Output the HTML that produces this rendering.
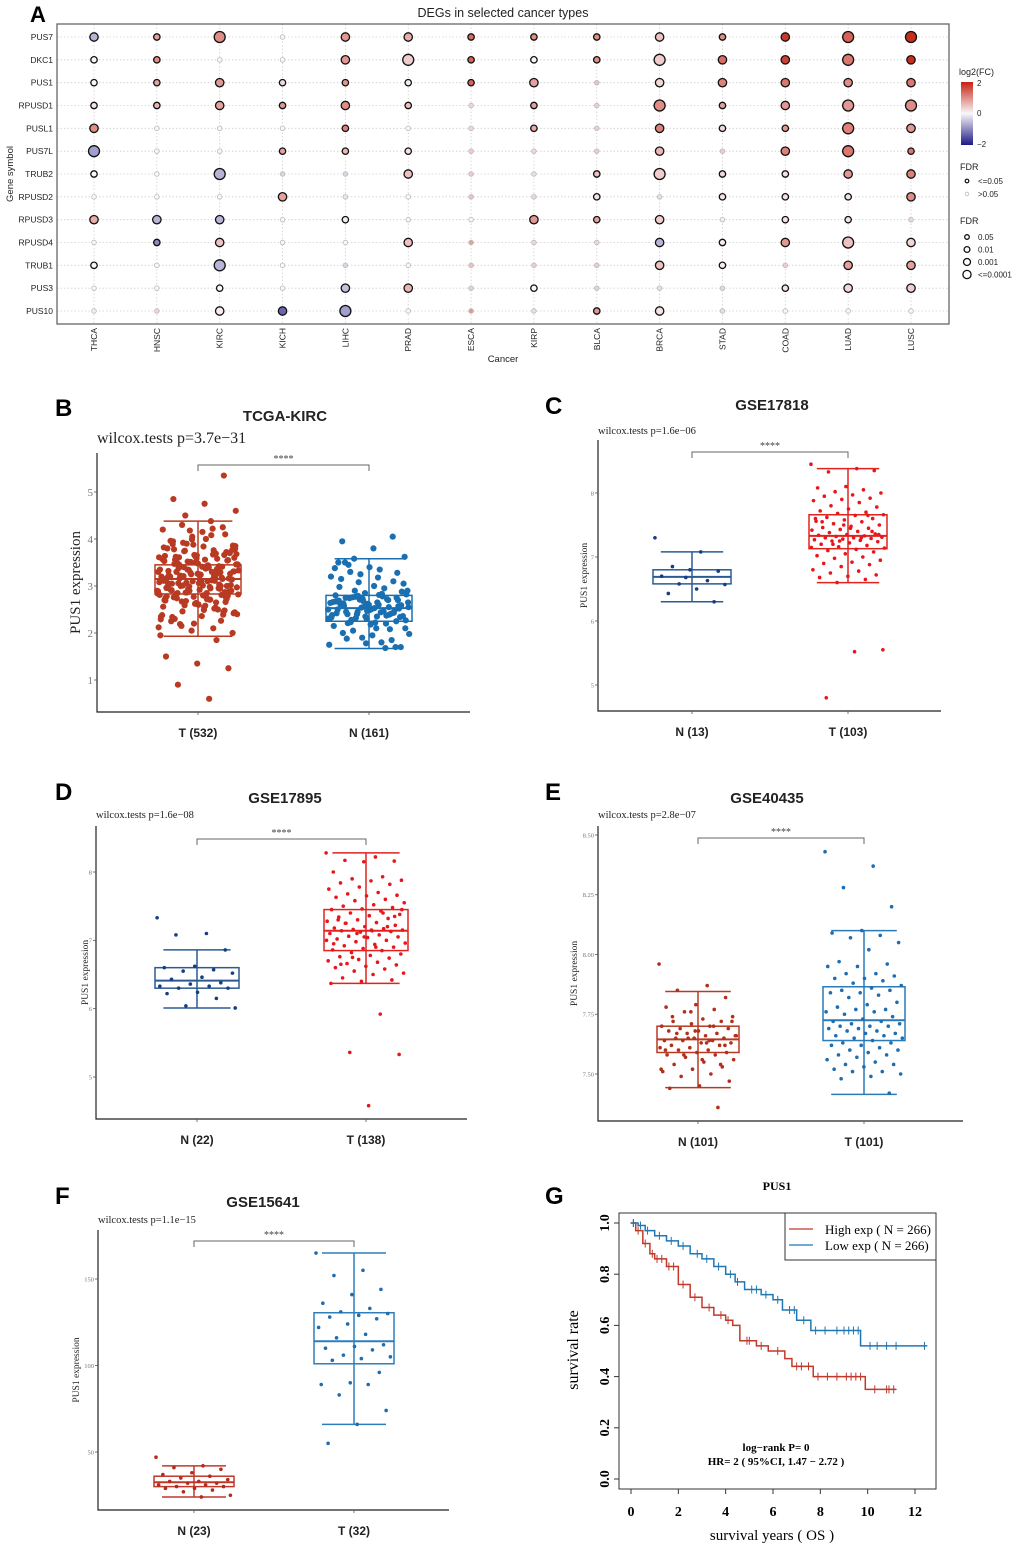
<!DOCTYPE html>
<html><head><meta charset="utf-8">
<style>
html,body{margin:0;padding:0;background:#fff;}
svg{display:block;}
.sans{font-family:"Liberation Sans",Arial,sans-serif;}
.serif{font-family:"Liberation Serif","Times New Roman",serif;}
</style></head>
<body>
<svg id="fig" width="1020" height="1551" viewBox="0 0 1020 1551" xmlns="http://www.w3.org/2000/svg">
<g id="gA"></g>
<g id="gB"></g>
<g id="gC"></g>
<g id="gD"></g>
<g id="gE"></g>
<g id="gF"></g>
<g id="gG"></g>
</svg>
<script>
// ---------- Panel A data ----------
const genes = ["PUS7","DKC1","PUS1","RPUSD1","PUSL1","PUS7L","TRUB2","RPUSD2","RPUSD3","RPUSD4","TRUB1","PUS3","PUS10"];
const cancers = ["THCA","HNSC","KIRC","KICH","LIHC","PRAD","ESCA","KIRP","BLCA","BRCA","STAD","COAD","LUAD","LUSC"];
const fcVals = [
 [-0.6,0.8,1.0,0,0.9,0.7,1.3,1.0,1.0,0.5,1.0,1.8,1.4,1.9],
 [0,1.0,0,0,0.9,0.4,1.4,0,1.0,0.4,1.3,1.7,1.2,1.9],
 [0,0.8,0.9,0.3,0.9,0.1,1.4,0.8,0.5,0.3,1.1,1.2,1.0,1.2],
 [0.2,0.6,0.8,0.9,1.0,0.5,0.3,0.8,0.4,1.0,0.8,0.9,0.9,1.0],
 [1.0,0,0,0,1.1,0,0.3,0.7,0.4,1.1,0.3,0.9,1.1,0.9],
 [-0.8,0,0,0.8,0.6,0.2,0.4,0.3,0.4,0.6,0.4,1.1,1.2,1.2],
 [0,0,-0.6,-0.3,-0.3,0.5,0.4,-0.2,0.5,0.4,0.3,0.2,0.9,1.1],
 [0,0,0,0.8,0.2,0,0.5,0.3,0.2,-0.2,0.2,0.2,0.2,1.0],
 [0.7,-0.6,-0.6,0,0.1,0,0,0.9,0.8,0.4,0.1,0.2,0.2,0.3],
 [0,-1.0,0.5,0,0,0.5,0.8,0.3,0.3,-0.6,0.1,0.9,0.5,0.3],
 [0,0,-0.6,0,-0.3,0,0.5,0.4,0.4,0.5,0.1,0.4,0.8,0.8],
 [0,0,0,0,-0.5,0.6,-0.3,0,-0.3,-0.2,0.3,0.2,0.3,0.4],
 [0.1,0.3,0.1,-1.3,-0.8,0,0.9,-0.2,0.9,0.2,-0.2,0,0,0]
];
const fdrLevels = [
 [2,1,3,0,2,2,1,1,1,2,1,2,3,3],
 [1,1,0,0,2,3,1,1,1,3,2,2,3,2],
 [1,1,2,1,1,1,1,2,0,2,2,2,2,2],
 [1,1,2,1,2,1,0,1,0,3,1,2,3,3],
 [2,0,0,0,1,0,0,1,0,2,1,1,3,2],
 [3,0,0,1,1,1,0,0,0,2,0,2,3,1],
 [1,0,3,0,0,2,0,0,1,3,1,1,2,2],
 [0,0,0,2,0,0,0,0,1,0,1,1,1,2],
 [2,2,2,0,1,0,0,2,1,2,0,1,1,0],
 [0,1,2,0,0,2,0,0,0,2,1,2,3,2],
 [1,0,3,0,0,0,0,0,0,2,1,0,2,2],
 [0,0,1,0,2,2,0,1,0,0,0,1,2,2],
 [0,0,2,2,3,0,0,0,1,2,0,0,0,0]
];
const fdrLegendLabels = ["0.05","0.01","0.001","<=0.0001"];

// ---------- Box panels data ----------
const bCats = ["T (532)","N (161)"];
const bStats = [[1.93,2.83,3.15,3.45,4.38],[1.67,2.25,2.53,2.80,3.58]];
const bTicks = [1,2,3,4,5];
const bPts0 = [2.9,3.1,3.3,3.0,3.5,2.7,3.2,3.4,3.6,2.8,3.05,3.15,3.25,3.35,2.95,3.45,3.7,2.6,3.8,2.5,3.9,2.4,4.0,2.3,4.1,2.2,4.2,2.1,4.3,2.0,3.1,3.2,3.0,2.9,3.3,3.4,2.85,3.55,3.65,2.75,2.65,3.75,3.85,2.55,3.95,2.45,4.05,2.35,3.12,3.22,3.02,2.92,3.32,3.42,3.52,2.82,2.72,3.62,3.72,2.62,3.82,2.52,3.92,2.42,4.15,2.25,3.18,3.28,3.08,2.98,3.38,2.88,3.48,2.78,3.58,2.68,3.68,2.58,3.78,2.48,3.88,2.38,4.22,2.15,3.14,3.24,3.04,2.94,3.34,2.84,3.44,2.74,3.54,2.64,3.64,2.54,3.74,2.44,3.84,2.34,4.25,2.05,1.95,4.38,3.16,3.26,3.06,2.96,3.36,2.86,3.46,2.76,3.56,2.66,3.66,2.56,3.76,2.46,3.86,2.36,3.96,2.26,4.18,2.12,0.6,0.9,1.25,1.35,1.5,1.85,4.5,4.6,4.75,4.85,5.35,3.1,3.2,3.3,3.0,2.9,3.13,3.23,3.03,2.93,3.33,3.43,2.83,2.73,3.63,3.53,
 3.11,3.21,3.31,3.01,2.91,3.41,3.51,2.81,2.71,3.61,3.71,2.61,3.17,3.27,3.07,2.97,3.37,3.47,2.87,2.77,3.57,3.67,2.67,3.77,3.09,3.19,3.29,2.99,2.89,3.39,3.49,2.79,3.59,2.69,3.69,2.59,3.79,2.49,3.89,2.39,3.99,2.29,4.08,2.19,3.15,3.25,3.05,2.95,3.35,3.45,2.85,3.55,2.75,3.65,3.11,3.21,3.01,3.31,3.41,2.91,2.81,3.51,3.61,2.71,3.06,3.16,3.26,2.96,3.36,2.86,3.46,3.56,2.76,3.66];
const bPts1 = [2.5,2.6,2.4,2.7,2.3,2.8,2.2,2.9,2.1,3.0,2.0,3.1,1.9,3.2,1.8,3.3,1.7,3.4,3.5,2.55,2.45,2.65,2.35,2.75,2.25,2.85,2.15,2.95,2.05,3.05,1.95,3.15,1.85,3.25,1.75,3.35,3.45,2.52,2.62,2.42,2.72,2.32,2.82,2.22,2.58,2.48,2.68,2.38,2.78,2.28,2.88,2.18,2.98,2.08,3.08,1.98,3.18,1.88,3.28,1.78,3.38,1.68,3.58,3.62,3.8,3.95,4.05,2.54,2.64,2.44,2.74,2.34,2.6,2.5,2.7,2.4,2.9,2.1,3.5,1.7,2.56,2.66,2.46,2.76,2.36,
 2.51,2.61,2.41,2.71,2.31,2.81,2.21,2.57,2.47,2.67,2.37,2.77,2.27,2.53,2.63,2.43,2.73,2.33,2.83,2.23,2.59,2.49,2.69,2.39,2.79,2.55,2.65,2.45,2.75,2.35];

const cCats = ["N  (13)","T  (103)"];
const cStats = [[6.30,6.58,6.69,6.80,7.08],[6.60,7.13,7.33,7.66,8.38]];
const cTicks = [5,6,7,8];
const cPts0 = [7.3,7.08,6.85,6.78,6.8,6.7,6.63,6.58,6.57,6.5,6.43,6.3,6.68];
const cPts1 = [8.45,8.38,8.33,8.35,8.1,8.08,8.05,8.02,8.0,7.97,7.95,7.92,7.9,7.88,7.85,7.8,7.78,7.75,7.72,7.7,7.68,7.66,7.65,7.62,7.6,7.58,7.56,7.55,7.52,7.5,7.48,7.46,7.45,7.43,7.42,7.4,7.38,7.36,7.35,7.34,7.33,7.32,7.31,7.3,7.3,7.29,7.28,7.27,7.26,7.25,7.24,7.22,7.2,7.18,7.16,7.14,7.12,7.1,7.08,7.05,7.02,7.0,6.98,6.95,6.92,6.9,6.88,6.85,6.8,6.78,6.75,6.72,6.7,6.68,6.65,6.6,5.55,5.52,4.8,7.4,7.5,7.6,7.3,7.2,7.35,7.45,7.55,7.65,7.25,7.15];

const dCats = ["N  (22)","T  (138)"];
const dStats = [[6.01,6.30,6.41,6.60,6.86],[6.37,6.85,7.14,7.45,8.28]];
const dTicks = [5,6,7,8];
const dPts0 = [7.33,7.1,7.08,6.86,6.62,6.6,6.57,6.55,6.52,6.46,6.43,6.38,6.36,6.33,6.33,6.3,6.3,6.24,6.22,6.15,6.04,6.01];
const dPts1 = [8.28,8.22,8.17,8.16,8.15,8.0,7.93,7.9,7.88,7.87,7.84,7.82,7.78,7.75,7.7,7.68,7.66,7.65,7.63,7.6,7.58,7.55,7.52,7.5,7.48,7.46,7.45,7.43,7.4,7.38,7.36,7.34,7.32,7.3,7.28,7.26,7.25,7.22,7.2,7.18,7.17,7.16,7.15,7.14,7.14,7.13,7.12,7.1,7.08,7.06,7.05,7.04,7.02,7.0,6.98,6.96,6.94,6.92,6.9,6.88,6.86,6.85,6.82,6.8,6.78,6.76,6.74,6.72,6.7,6.68,6.66,6.64,6.62,6.6,6.58,6.55,6.52,6.5,6.45,6.42,6.4,6.37,5.92,5.36,5.33,4.58,7.3,7.2,7.1,7.0,6.9,7.25,7.35,7.05,6.95,7.4,6.75,7.45,7.15,6.65];

const eCats = ["N  (101)","T (101)"];
const eStats = [[7.443,7.59,7.645,7.70,7.845],[7.415,7.64,7.725,7.865,8.10]];
const eTicks = [7.5,7.75,8.0,8.25,8.5];
const eTickLabels = ["7.50","7.75","8.00","8.25","8.50"];
const ePts0 = [7.96,7.87,7.85,7.82,7.79,7.78,7.77,7.76,7.74,7.73,7.72,7.72,7.71,7.7,7.7,7.69,7.69,7.68,7.68,7.67,7.67,7.66,7.66,7.65,7.65,7.65,7.64,7.64,7.64,7.63,7.63,7.62,7.62,7.61,7.61,7.6,7.6,7.59,7.59,7.58,7.58,7.57,7.56,7.55,7.54,7.53,7.52,7.51,7.5,7.49,7.47,7.45,7.44,7.36,7.65,7.66,7.63,7.67,7.62,7.68,7.6,7.7,7.58,7.72,7.56,7.74,7.54,7.76,7.52,7.64];
const ePts1 = [8.43,8.37,8.28,8.2,8.1,8.09,8.08,8.07,8.05,8.02,7.97,7.96,7.95,7.95,7.92,7.92,7.91,7.9,7.9,7.89,7.88,7.87,7.86,7.85,7.85,7.84,7.84,7.83,7.82,7.8,7.79,7.78,7.77,7.77,7.76,7.76,7.75,7.74,7.73,7.72,7.72,7.71,7.71,7.7,7.7,7.7,7.69,7.69,7.68,7.68,7.67,7.67,7.66,7.66,7.65,7.65,7.64,7.63,7.63,7.62,7.62,7.61,7.6,7.6,7.59,7.58,7.58,7.57,7.56,7.55,7.54,7.54,7.53,7.52,7.51,7.51,7.5,7.49,7.48,7.42];

const fCats = ["N  (23)","T  (32)"];
const fStats = [[24,30,32.5,36,42],[66,101,114,130.5,165]];
const fTicks = [50,100,150];
const fPts0 = [47,42,41,40,38,37,36,35,34,33,33,32,32,31,31,30,30,29,29,28,27,25,24];
const fPts1 = [165,155,152,144,141,136,133,131,130,129,128,127,124,122,118,116,112,111,110,109,106,105,104,103,96,90,89,89,83,74,66,55];

// ---------- Panel G data ----------
const kmHighT = [0,0.2,0.5,0.8,1.0,1.5,2.0,2.5,3.0,3.5,4.0,4.3,4.6,5.3,5.8,6.5,6.8,7.7,9.9,11.2];
const kmHighS = [1,0.97,0.92,0.88,0.86,0.83,0.76,0.71,0.67,0.64,0.62,0.60,0.54,0.52,0.50,0.47,0.44,0.40,0.35,0.35];
const kmLowT = [0,0.3,0.6,1.0,1.5,2.0,2.5,3.0,3.5,4.0,4.4,4.8,5.5,6.0,6.4,7.0,7.6,9.7,12.5];
const kmLowS = [1,0.99,0.97,0.95,0.93,0.91,0.88,0.86,0.83,0.80,0.77,0.74,0.72,0.70,0.66,0.62,0.58,0.52,0.52];
const kmHighCens = [0.1,0.3,0.6,0.9,1.1,1.3,1.6,1.8,2.2,2.7,3.3,3.8,4.1,4.9,5.0,5.5,6.2,7.0,7.2,7.5,7.9,8.3,8.7,9.1,9.3,9.5,9.7,10.3,10.8,10.9,11.1];
const kmLowCens = [0.1,0.4,0.7,1.2,1.7,2.2,2.8,3.2,3.7,4.2,4.5,5.1,5.3,5.7,6.2,6.7,6.9,7.3,7.8,8.2,8.7,9.0,9.2,9.4,9.6,10.1,10.4,10.8,11.2,12.4];
const kmXTicks = [0,2,4,6,8,10,12];
const kmYTicks = [0,0.2,0.4,0.6,0.8,1.0];
const kmLegend = ["High exp ( N = 266)","Low exp ( N = 266)"];

const NS = "http://www.w3.org/2000/svg";
function mk(parent, tag, attrs, text){
  const e = document.createElementNS(NS, tag);
  for (const k in attrs) e.setAttribute(k, attrs[k]);
  if (text !== undefined) e.textContent = text;
  parent.appendChild(e);
  return e;
}

// ---------- Panel A ----------
(function(){
  const g = document.getElementById('gA');
  const L=57,R=949,T=24,B=324;
  const x0=94, dx=(911-94)/(cancers.length-1);
  const y0=37, dy=(311-37)/(genes.length-1);
  const xA = i => x0 + i*dx;
  const yA = j => y0 + j*dy;
  function col(v){
    const t = Math.min(1, Math.abs(v)/2);
    const w=[250,247,250];
    const c = v>=0 ? [198,34,18] : [28,26,132];
    return 'rgb('+w.map((a,k)=>Math.round(a+(c[k]-a)*t)).join(',')+')';
  }
  let t = mk(g,'text',{x:'30',y:'22','font-size':'22','font-weight':'bold',class:'sans'},'A');
   
  t = mk(g,'text',{x:'503',y:'17','font-size':'12.5','text-anchor':'middle',class:'sans',fill:'#222'},'DEGs in selected cancer types');
   
  genes.forEach((gn,j)=>{
    const l = mk(g,'line',{x1:L,x2:R,y1:yA(j),y2:yA(j),stroke:'#cfcfcf','stroke-width':'0.8','stroke-dasharray':'1.5,2'});
     
    const lb = mk(g,'text',{x:L-4,y:yA(j)+3,'font-size':'8.5','text-anchor':'end',class:'sans',fill:'#222'},gn);
     
  });
  cancers.forEach((c,i)=>{
    const l = mk(g,'line',{x1:xA(i),x2:xA(i),y1:T,y2:B,stroke:'#cfcfcf','stroke-width':'0.8','stroke-dasharray':'1.5,2'});
     
    const lb = mk(g,'text',{x:0,y:0,'font-size':'8.5','text-anchor':'end',class:'sans',fill:'#222',transform:'translate('+(xA(i)+3)+','+(B+4)+') rotate(-90)'},c);
     
  });
  const frame = mk(g,'rect',{x:L,y:T,width:R-L,height:B-T,fill:'none',stroke:'#666','stroke-width':'1.3'});
   
  const radii=[2.3,3.2,4.2,5.5];
  genes.forEach((gn,j)=>{
    cancers.forEach((c,i)=>{
      const lv = fdrLevels[j][i], v = fcVals[j][i];
      const sig = lv>0;
      const ci = mk(g,'circle',{cx:xA(i),cy:yA(j),r:radii[lv],fill:col(v),stroke:sig?'#111':'#b8b8b8','stroke-width':sig?'1.3':'0.8'});
      
      
    });
  });
  t = mk(g,'text',{x:'503',y:'362','font-size':'9.5','text-anchor':'middle',class:'sans',fill:'#222'},'Cancer');
   
  t = mk(g,'text',{x:0,y:0,'font-size':'9.5','text-anchor':'middle',class:'sans',fill:'#222',transform:'translate(13,174) rotate(-90)'},'Gene symbol');
   
  const defs = mk(document.getElementById('fig'),'defs',{});
  const lg = mk(defs,'linearGradient',{id:'fcgrad',x1:'0',y1:'0',x2:'0',y2:'1'});
  mk(lg,'stop',{offset:'0',"stop-color":col(2)});
  mk(lg,'stop',{offset:'0.5',"stop-color":col(0)});
  mk(lg,'stop',{offset:'1',"stop-color":col(-2)});
  t = mk(g,'text',{x:'959',y:'75','font-size':'9',class:'sans',fill:'#222'},'log2(FC)');
   
  const cb = mk(g,'rect',{x:'961',y:'82',width:'12',height:'63',fill:'url(#fcgrad)'});
   
  [['2',86],['0',116],['−2',147]].forEach(a=>{
    const tt = mk(g,'text',{x:'977',y:a[1],'font-size':'8',class:'sans',fill:'#222'},a[0]);
     
  });
  t = mk(g,'text',{x:'960',y:'170','font-size':'9',class:'sans',fill:'#222'},'FDR');
   
  [['<=0.05',181,'#111',1.2],['>0.05',194,'#bbb',0.8]].forEach(a=>{
    const c = mk(g,'circle',{cx:'967',cy:a[1],r:'1.8',fill:'none',stroke:a[2],'stroke-width':a[3]});
     
    const tt = mk(g,'text',{x:'978',y:a[1]+3,'font-size':'8',class:'sans',fill:'#222'},a[0]);
     
  });
  t = mk(g,'text',{x:'960',y:'224','font-size':'9',class:'sans',fill:'#222'},'FDR');
   
  fdrLegendLabels.forEach((lab,k)=>{
    const yy = 237+k*12.5;
    const c = mk(g,'circle',{cx:'967',cy:yy,r:2.3+k*0.6,fill:'none',stroke:'#111','stroke-width':'1.3'});
     
    const tt = mk(g,'text',{x:'978',y:yy+3,'font-size':'8',class:'sans',fill:'#222'},lab);
     
  });
})();

// ---------- box panel ----------
function boxPanel(gid, cfg, cats, stats, ticks, tickLabels, pts){
  const g = document.getElementById(gid);
  const yS = v => cfg.yPix1 + (v - cfg.v1)*(cfg.yPix2-cfg.yPix1)/(cfg.v2-cfg.v1);
  let t = mk(g,'text',{x:cfg.lx,y:cfg.ly,'font-size':'24','font-weight':'bold',class:'sans'},cfg.letter);
   
  t = mk(g,'text',{x:cfg.tx,y:cfg.ty,'font-size':'15','font-weight':'bold','text-anchor':'middle',class:'sans',fill:'#222'},cfg.title);
   
  t = mk(g,'text',{x:cfg.wx,y:cfg.wy,'font-size':cfg.wfs,class:'serif',fill:'#222'},cfg.wtext);
   
  const ax = mk(g,'path',{d:'M'+cfg.L+','+cfg.T+' V'+cfg.B+' H'+cfg.R,fill:'none',stroke:'#222','stroke-width':'1.2'});
   
  ticks.forEach((v,k)=>{
    const y = yS(v);
    const tk = mk(g,'line',{x1:cfg.L-3,x2:cfg.L,y1:y,y2:y,stroke:'#555','stroke-width':'0.8'});
     
    const tl = mk(g,'text',{x:cfg.L-4,y:y+cfg.tfs*0.35,'font-size':cfg.tfs,'text-anchor':'end',class:'serif',fill:'#777'},tickLabels?tickLabels[k]:String(v));
     
  });
  t = mk(g,'text',{x:0,y:0,'font-size':cfg.yfs,'text-anchor':'middle',class:'serif',fill:'#222',transform:'translate('+cfg.yx+','+((cfg.T+cfg.B)/2)+') rotate(-90)'},'PUS1 expression');
   
  cats.forEach((c,i)=>{
    const x = cfg.xs[i], s = stats[i], col = cfg.cols[i], hw = cfg.hw;
    const tk = mk(g,'line',{x1:x,x2:x,y1:cfg.B,y2:cfg.B+3,stroke:'#555','stroke-width':'0.8'});
     
    const xl = mk(g,'text',{x:x,y:cfg.B+25,'font-size':'12','font-weight':'bold','text-anchor':'middle',class:'sans',fill:'#222'},c);
     
    const bx = mk(g,'g',{});
     
    mk(bx,'line',{x1:x,x2:x,y1:yS(s[0]),y2:yS(s[4]),stroke:col,'stroke-width':'1.5'});
    mk(bx,'line',{x1:x-hw*0.8,x2:x+hw*0.8,y1:yS(s[0]),y2:yS(s[0]),stroke:col,'stroke-width':'1.5'});
    mk(bx,'line',{x1:x-hw*0.8,x2:x+hw*0.8,y1:yS(s[4]),y2:yS(s[4]),stroke:col,'stroke-width':'1.5'});
    mk(bx,'rect',{x:x-hw,y:yS(s[3]),width:2*hw,height:yS(s[1])-yS(s[3]),fill:'none',stroke:col,'stroke-width':'1.5'});
    mk(bx,'line',{x1:x-hw,x2:x+hw,y1:yS(s[2]),y2:yS(s[2]),stroke:col,'stroke-width':'2'});
    const pg = mk(g,'g',{fill:cfg.pcols[i]});
     
    pts[i].forEach((v,k)=>{
      const jit = (((k*0.6180339)%1)-0.5)*2*hw*0.95;
      const p = mk(pg,'circle',{cx:x+jit,cy:yS(v),r:cfg.pr});
       
    });
  });
  const br = mk(g,'path',{d:'M'+cfg.xs[0]+','+(cfg.by+6)+' V'+cfg.by+' H'+cfg.xs[1]+' V'+(cfg.by+6),fill:'none',stroke:'#666','stroke-width':'1'});
   
  t = mk(g,'text',{x:(cfg.xs[0]+cfg.xs[1])/2,y:cfg.by-3,'font-size':'10','text-anchor':'middle',class:'serif',fill:'#444'},'****');
   
}

boxPanel('gB',{letter:'B',lx:55,ly:416,title:'TCGA-KIRC',tx:285,ty:421,wx:97,wy:443,wfs:16,wtext:'wilcox.tests p=3.7e−31',
  L:97,R:470,T:453,B:712,v1:1,yPix1:680,v2:5,yPix2:492,tfs:11,yfs:15,yx:80,xs:[198,369],hw:43,
  cols:['#b83a22','#1a6fb0'],pcols:['#b83a22','#1a6fb0'],pr:3.1,by:465},bCats,bStats,bTicks,null,[bPts0,bPts1]);
boxPanel('gC',{letter:'C',lx:545,ly:414,title:'GSE17818',tx:772,ty:410,wx:598,wy:434,wfs:10.5,wtext:'wilcox.tests p=1.6e−06',
  L:598,R:941,T:440,B:711,v1:5,yPix1:685,v2:8,yPix2:493,tfs:6.5,yfs:9.5,yx:587,xs:[692,848],hw:39,
  cols:['#2b5b93','#e0231f'],pcols:['#163e82','#e8161c'],pr:1.8,by:452},cCats,cStats,cTicks,null,[cPts0,cPts1]);
boxPanel('gD',{letter:'D',lx:55,ly:800,title:'GSE17895',tx:285,ty:803,wx:96,wy:818,wfs:10.5,wtext:'wilcox.tests p=1.6e−08',
  L:96,R:467,T:826,B:1119,v1:5,yPix1:1077,v2:8,yPix2:872,tfs:6.5,yfs:9.5,yx:88,xs:[197,366],hw:42,
  cols:['#2b5b93','#e0231f'],pcols:['#163e82','#e8161c'],pr:1.8,by:839},dCats,dStats,dTicks,null,[dPts0,dPts1]);
boxPanel('gE',{letter:'E',lx:545,ly:800,title:'GSE40435',tx:767,ty:803,wx:598,wy:818,wfs:10.5,wtext:'wilcox.tests p=2.8e−07',
  L:598,R:963,T:826,B:1121,v1:7.5,yPix1:1074,v2:8.5,yPix2:835,tfs:6.5,yfs:9.5,yx:577,xs:[698,864],hw:41,
  cols:['#b83a22','#2a7ab8'],pcols:['#b0301c','#1f6db0'],pr:1.8,by:838},eCats,eStats,eTicks,eTickLabels,[ePts0,ePts1]);
boxPanel('gF',{letter:'F',lx:55,ly:1204,title:'GSE15641',tx:263,ty:1207,wx:98,wy:1223,wfs:10.5,wtext:'wilcox.tests p=1.1e−15',
  L:98,R:449,T:1230,B:1510,v1:50,yPix1:1452,v2:150,yPix2:1279,tfs:6.5,yfs:9.5,yx:79,xs:[194,354],hw:40,
  cols:['#c0392b','#2e7ebc'],pcols:['#b52a1a','#1f6db0'],pr:1.8,by:1241},fCats,fStats,fTicks,null,[fPts0,fPts1]);

// ---------- Panel G ----------
(function(){
  const g = document.getElementById('gG');
  const L=619,R=936,T=1213,B=1489;
  const xS = v => 631 + v*(915-631)/12;
  const yS = v => 1479 - v*(1479-1223);
  let t = mk(g,'text',{x:'545',y:'1204','font-size':'24','font-weight':'bold',class:'sans'},'G');
   
  t = mk(g,'text',{x:'777',y:'1190','font-size':'12','font-weight':'bold','text-anchor':'middle',class:'serif'},'PUS1');
   
  const fr = mk(g,'rect',{x:L,y:T,width:R-L,height:B-T,fill:'none',stroke:'#333','stroke-width':'1'});
   
  kmXTicks.forEach(v=>{
    const l = mk(g,'line',{x1:xS(v),x2:xS(v),y1:B,y2:B+5,stroke:'#333'});
     
    const tl = mk(g,'text',{x:xS(v),y:1516,'font-size':'14','font-weight':'bold','text-anchor':'middle',class:'serif'},String(v));
     
  });
  kmYTicks.forEach(v=>{
    const l = mk(g,'line',{x1:L-5,x2:L,y1:yS(v),y2:yS(v),stroke:'#333'});
     
    const tl = mk(g,'text',{x:0,y:0,'font-size':'14','font-weight':'bold','text-anchor':'middle',class:'serif',transform:'translate('+(L-10)+','+yS(v)+') rotate(-90)'},v.toFixed(1));
     
  });
  t = mk(g,'text',{x:0,y:0,'font-size':'16','text-anchor':'middle',class:'serif',transform:'translate(578,1350) rotate(-90)'},'survival rate');
   
  t = mk(g,'text',{x:'772',y:'1540','font-size':'15','text-anchor':'middle',class:'serif'},'survival years ( OS   )');
   
  function stepPath(ts, ss){
    let d = 'M'+xS(ts[0])+','+yS(ss[0]);
    for (let k=1;k<ts.length;k++){ d += ' H'+xS(ts[k])+' V'+yS(ss[k]); }
    return d;
  }
  function survAt(ts, ss, x){ let s=ss[0]; for(let k=0;k<ts.length;k++){ if(ts[k]<=x) s=ss[k]; } return s; }
  const series = [[kmHighT,kmHighS,kmHighCens,'#c0392b','km-curve-high'],[kmLowT,kmLowS,kmLowCens,'#1f78b4','km-curve-low']];
  series.forEach(sr=>{
    const p = mk(g,'path',{d:stepPath(sr[0],sr[1]),fill:'none',stroke:sr[3],'stroke-width':'1.5'});
     
    sr[2].forEach(c=>{
      const x=xS(c), y=yS(survAt(sr[0],sr[1],c));
      const m = mk(g,'path',{d:'M'+(x-3)+','+y+' H'+(x+3)+' M'+x+','+(y-4)+' V'+(y+4),stroke:sr[3],'stroke-width':'1'});
       
    });
  });
  const lb = mk(g,'rect',{x:'785',y:T,width:R-785,height:'47',fill:'#fff',stroke:'#333','stroke-width':'1'});
   
  kmLegend.forEach((lab,k)=>{
    const y = 1229+k*16;
    const l = mk(g,'line',{x1:'789',x2:'813',y1:y,y2:y,stroke:series[k][3],'stroke-width':'1.2'});
     
    const tt = mk(g,'text',{x:'825',y:y+5,'font-size':'13',class:'serif'},lab);
     
  });
  t = mk(g,'text',{x:'776',y:'1451','font-size':'11','font-weight':'bold','text-anchor':'middle',class:'serif'},'log−rank P= 0');
   
  t = mk(g,'text',{x:'776',y:'1465','font-size':'11','font-weight':'bold','text-anchor':'middle',class:'serif'},'HR= 2 ( 95%CI, 1.47 − 2.72 )');
   
})();
</script>
</body></html>
